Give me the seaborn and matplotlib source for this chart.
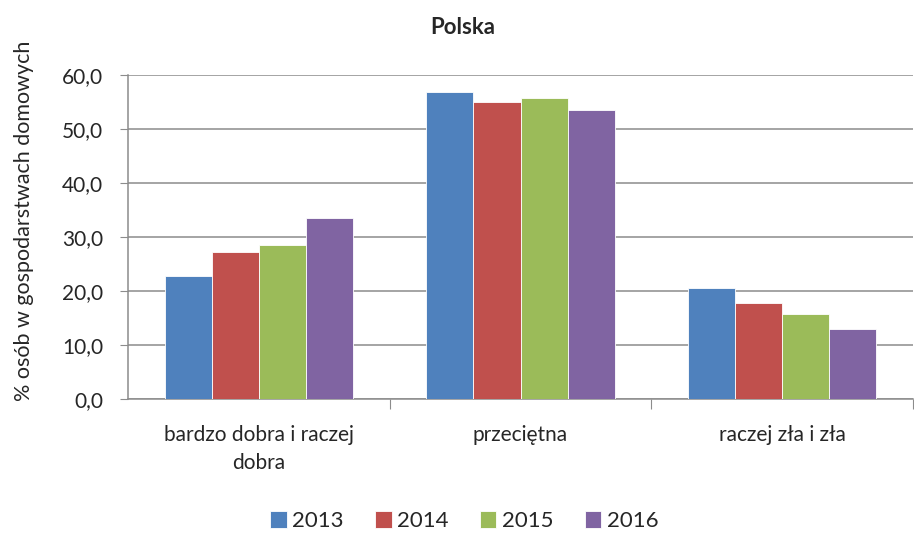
import pandas as pd
import numpy as np
import matplotlib.pyplot as plt
import seaborn as sns

# data
categories = ["bardzo dobra i raczej\ndobra", "przeciętna", "raczej zła i zła"]
years = ["2013", "2014", "2015", "2016"]
v2013 = [22.7, 56.8, 20.5]
v2014 = [27.2, 55.1, 17.7]
v2015 = [28.6, 55.7, 15.8]
v2016 = [33.6, 53.5, 12.9]
colors = ["#4F81BD", "#C0504D", "#9BBB59", "#8064A2"]

data = pd.DataFrame({
    "kategoria": categories * 4,
    "rok": [y for y in years for _ in categories],
    "wartosc": v2013 + v2014 + v2015 + v2016,
})

sns.set_style("white")
plt.rcParams["font.family"] = ["Lato", "DejaVu Sans"]

fig = plt.figure(figsize=(9.14, 5.33), dpi=100)
ax = fig.add_axes([0.14, 0.2514, 0.859, 0.6078])

sns.barplot(data=data, x="kategoria", y="wartosc", hue="rok", order=categories,
            hue_order=years, palette=colors, width=0.72, saturation=1,
            edgecolor="white", linewidth=0.6, ax=ax, zorder=3)

ax.set_ylim(0, 60)
ax.set_xlim(-0.5, 2.5)
ax.set_yticks(np.arange(0, 61, 10))
ax.set_yticklabels([f"{t:.1f}".replace(".", ",") for t in np.arange(0, 61, 10)], fontsize=15)
ax.yaxis.grid(True, color="#8c8c8c", linewidth=1.1, zorder=0)
ax.set_axisbelow(True)

# category labels between tick marks, like Excel
ax.set_xticks([0.5, 1.5, 2.5])
ax.set_xticklabels([])
ax.set_xticks([0, 1, 2], minor=True)
ax.set_xticklabels(categories, minor=True, fontsize=15, linespacing=1.45)
ax.tick_params(axis="x", which="minor", length=0, pad=19)
ax.tick_params(axis="x", which="major", length=7, color="#8c8c8c", direction="out")
ax.tick_params(axis="y", length=6, color="#8c8c8c", direction="out", pad=12)
ax.yaxis.set_ticks_position("left")
ax.xaxis.set_ticks_position("bottom")

for side in ["top", "right"]:
    ax.spines[side].set_visible(False)
for side in ["left", "bottom"]:
    ax.spines[side].set_color("#8c8c8c")
    ax.spines[side].set_linewidth(1.1)

ax.set_xlabel("")
ax.set_ylabel("")
fig.text(0.026, 0.585, "% osób w gospodarstwach domowych", fontsize=15.5,
         rotation=90, ha="center", va="center")
fig.text(0.506, 0.948, "Polska", fontsize=16, fontweight="bold", ha="center", va="center")

handles, labels = ax.get_legend_handles_labels()
ax.get_legend().remove()
fig.legend(handles, labels, loc="center", bbox_to_anchor=(0.508, 0.022),
           ncol=4, frameon=False, fontsize=16, handlelength=0.75, handleheight=0.75,
           handletextpad=0.25, columnspacing=1.4)

plt.savefig("out.png", dpi=100)
